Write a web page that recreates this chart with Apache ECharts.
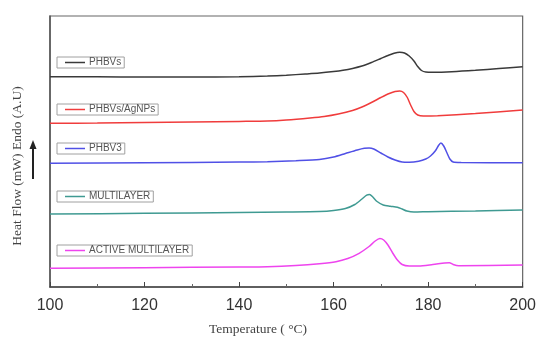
<!DOCTYPE html>
<html><head><meta charset="utf-8">
<script src="https://cdn.jsdelivr.net/npm/echarts@6/dist/echarts.min.js"></script>
<style>html,body{margin:0;padding:0;background:#fff}#c{width:539px;height:338px}</style>
</head><body><div id="c"></div>
<script>
// Temperature (°C) and stacked heat-flow (A.U.) readings per sample
const names = ['PHBVs', 'PHBVs/AgNPs', 'PHBV3', 'MULTILAYER', 'ACTIVE MULTILAYER'];
const colors = ['#3a3a3a', '#f03c3c', '#5050e6', '#3f9a92', '#ee44ee'];

const tPHBVs = [100, 110, 120, 130, 140, 146, 150, 154, 157, 160, 162, 164, 166, 168, 170, 171.5, 172.8, 174, 175, 176, 177, 177.8, 178.6, 179.5, 181, 185, 190, 195, 200];
const hPHBVs = [210.3, 210.2, 210, 210, 210.3, 211, 211.8, 213, 214, 215.5, 216.8, 218.6, 221, 224.5, 228.5, 231.5, 233.8, 234.8, 234, 231, 226, 220.5, 216.5, 215, 214.8, 215.3, 216.7, 218.5, 220.3];

const tAg = [100, 110, 120, 130, 140, 146, 150, 155, 158, 161, 164, 166, 168, 170, 171.5, 173, 174, 174.8, 175.6, 176.3, 177, 177.8, 179, 182, 190, 200];
const hAg = [163.7, 164, 164.5, 165, 165.6, 166, 167, 169, 170.5, 173, 176.5, 180, 184.5, 189.5, 193, 195.6, 196, 194.5, 189.5, 182, 175.5, 172, 171, 171.3, 173.5, 177];

const tV3 = [100, 120, 140, 146, 152, 157, 160, 162.5, 165, 166.5, 167.5, 168.5, 170, 171.5, 173, 174.5, 176, 178, 179.5, 180.5, 181.5, 182.2, 182.7, 183.3, 184, 184.6, 185.3, 187, 200];
const hV3 = [123.7, 124.2, 125, 125.3, 126.3, 127.5, 130, 133.5, 137, 138.7, 139, 138, 134, 130, 127, 125, 124.8, 125.8, 128, 131, 136, 141.5, 144, 141, 134, 128, 125, 124.5, 124.3];

const tML = [100, 120, 140, 150, 157, 160, 162.5, 164.5, 166, 167, 167.6, 168.3, 169.2, 170.5, 172, 173.5, 174.5, 175.5, 177, 180, 190, 200];
const hML = [73, 73.7, 74.5, 75, 75.5, 76.5, 78.5, 82.5, 88, 91.8, 92.5, 90, 85.5, 82, 80.8, 79.8, 78, 76, 75, 75.3, 76, 77];

const tAML = [100, 120, 140, 146, 152, 157, 160.5, 163, 165.4, 167.5, 168.8, 169.8, 170.6, 171.5, 172.5, 173.5, 174.5, 176, 178, 181, 183.5, 184.5, 185.3, 186.5, 200];
const hAML = [18.7, 19.3, 20, 20.3, 21.5, 23.3, 25.3, 28.5, 33.7, 40.5, 46, 48.5, 47, 42, 34, 27, 22.5, 21, 21, 22.5, 24, 24.3, 22.5, 21.3, 22];

const xTicks = [100, 120, 140, 160, 180, 200];

const temps = [tPHBVs, tAg, tV3, tML, tAML];
const flows = [hPHBVs, hAg, hV3, hML, hAML];
const legendTops = [57, 104, 143, 191, 245];

const chart = echarts.init(document.getElementById('c'));
const series = names.map((n, i) => ({
  name: n, type: 'line', showSymbol: false, smooth: 0.25,
  lineStyle: { color: colors[i], width: 1.5 }, itemStyle: { color: colors[i] },
  data: temps[i].map((t, j) => [t, flows[i][j]])
}));
const legends = names.map((n, i) => ({
  data: [n], left: 57, top: legendTops[i], orient: 'horizontal',
  icon: 'rect', itemWidth: 20, itemHeight: 1.5, itemGap: 2,
  padding: [0, 3, 0, 8], borderColor: '#a0a0a0', borderWidth: 1,
  textStyle: { fontFamily: 'Liberation Sans, Arial', fontSize: 10, lineHeight: 11, color: '#555', padding: [0, 0, 0, -1] }
}));
chart.setOption({
  animation: false,
  backgroundColor: '#fff',
  grid: { left: 50, right: 15, top: 16, bottom: 51, show: true, borderColor: '#666', borderWidth: 1.2 },
  legend: legends,
  xAxis: {
    type: 'value', min: 100, max: 200, interval: 20,
    axisLine: { lineStyle: { color: '#444', width: 1.5 } },
    axisTick: { inside: true, length: 5, lineStyle: { color: '#444' } },
    minorTick: { show: true, splitNumber: 2, length: 3, lineStyle: { color: '#666' } },
    splitLine: { show: false },
    axisLabel: { fontFamily: 'Liberation Sans, Arial', fontSize: 16, color: '#333', margin: 11,
      formatter: v => xTicks.includes(v) ? String(v) : '' }
  },
  yAxis: {
    type: 'value', min: 0, max: 271,
    axisLine: { show: true, lineStyle: { color: '#555', width: 1.5 } },
    axisTick: { show: false }, axisLabel: { show: false }, splitLine: { show: false }
  },
  graphic: [
    { type: 'text', x: 17, y: 166, rotation: Math.PI / 2,
      style: { text: 'Heat Flow (mW) Endo (A.U)', fontFamily: 'Liberation Serif, Times New Roman', fontSize: 13.5,
        fill: '#444', textAlign: 'center', textVerticalAlign: 'middle' } },
    { type: 'text', x: 258, y: 329,
      style: { text: 'Temperature ( °C)', fontFamily: 'Liberation Serif, Times New Roman', fontSize: 13.5,
        fill: '#444', textAlign: 'center', textVerticalAlign: 'middle' } },
    { type: 'line', shape: { x1: 33, y1: 179, x2: 33, y2: 148 }, style: { stroke: '#222', lineWidth: 2 } },
    { type: 'polygon', shape: { points: [[29.5, 149], [36.5, 149], [33, 140]] }, style: { fill: '#222' } }
  ],
  series: series
});
</script></body></html>
